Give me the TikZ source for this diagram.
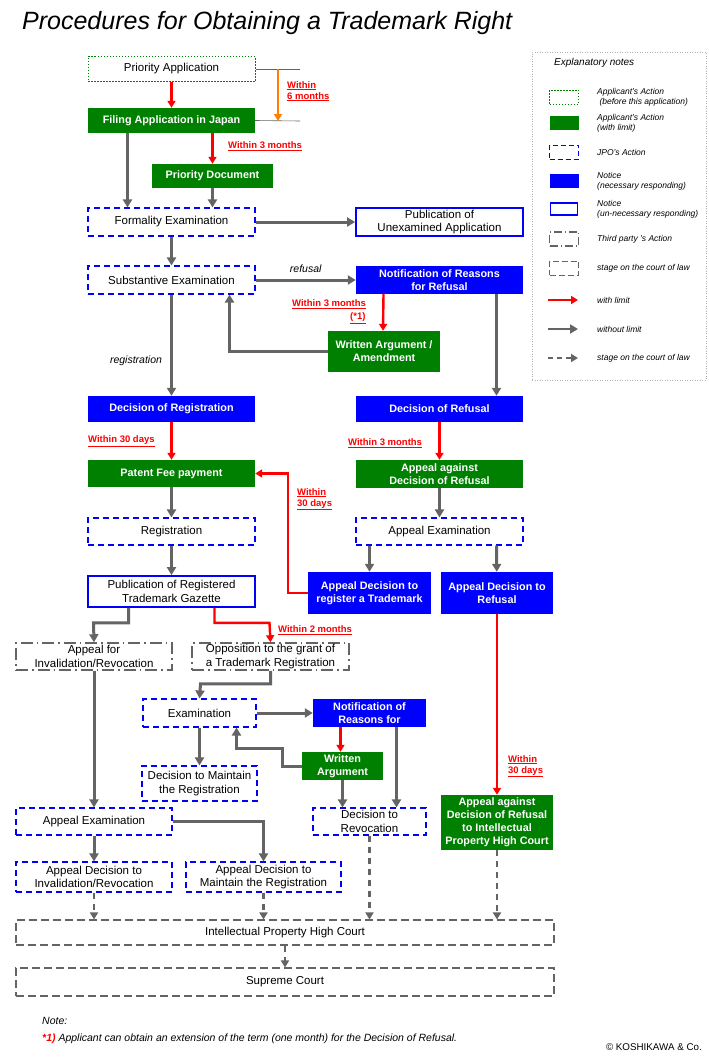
\documentclass[tikz,border=0pt]{standalone}
\usepackage{fontspec}
\setmainfont{Liberation Sans}
\usetikzlibrary{arrows.meta}
\definecolor{appgreen}{RGB}{0,128,0}
\definecolor{jpoblue}{RGB}{0,0,255}
\definecolor{arrgray}{RGB}{100,100,100}
\definecolor{limred}{RGB}{255,0,0}
\tikzset{
  box/.style={rectangle, inner sep=1pt, align=center, font=\fontsize{11.5}{13.5}\selectfont},
  pre/.style={box, draw=appgreen, line width=1pt, dash pattern=on 1.5pt off 1.5pt},
  app/.style={box, fill=appgreen, text=white, font=\fontsize{10.8}{13}\selectfont\bfseries},
  jpo/.style={box, draw=jpoblue, line width=1.1pt, dash pattern=on 6pt off 4pt},
  need/.style={box, fill=jpoblue, text=white, font=\fontsize{10.8}{13}\selectfont\bfseries},
  notice/.style={box, draw=jpoblue, line width=1.8pt},
  third/.style={box, draw=arrgray, line width=1.5pt, dash pattern=on 12pt off 4pt on 1.5pt off 4pt},
  court/.style={box, draw=arrgray, line width=1.1pt, dash pattern=on 8pt off 4pt},
  rarr/.style={draw=limred, line width=2.4pt, -{Triangle[length=7pt,width=8pt]}},
  garr/.style={draw=arrgray, line width=3pt, -{Triangle[length=8pt,width=9pt]}},
  darr/.style={draw=arrgray, line width=2.2pt, dash pattern=on 6pt off 5pt, -{Triangle[length=7pt,width=8pt]}},
  lim/.style={text=limred, font=\fontsize{9.5}{11}\selectfont\bfseries, align=left, inner sep=0pt},
  note/.style={font=\fontsize{10.5}{12}\selectfont\itshape, inner sep=0pt},
  leg/.style={font=\fontsize{8.5}{10}\selectfont\itshape, align=left, anchor=west, inner sep=0pt},
}
\begin{document}
\begin{tikzpicture}[x=1pt,y=-1pt]
  \useasboundingbox (0,0) rectangle (709,1063);

  % title
  \node[anchor=west, inner sep=0pt, font=\fontsize{25}{28}\selectfont\itshape] (title) at (22,23) {Procedures for Obtaining a Trademark Right};

  % main column
  \node[pre, minimum width=167pt, minimum height=25pt] (pa) at (171.5,69) {Priority Application};
  \node[app, minimum width=167pt, minimum height=25pt] (fa) at (171.5,120.5) {Filing Application in Japan};
  \node[app, minimum width=121pt, minimum height=24pt] (pd) at (212.5,176) {Priority Document};
  \node[jpo, minimum width=167pt, minimum height=28pt] (fe) at (171.5,222) {Formality Examination};
  \node[notice, minimum width=167pt, minimum height=28pt] (pu) at (439.5,222) {Publication of\\Unexamined Application};
  \node[jpo, minimum width=167pt, minimum height=28pt] (se) at (171.5,280) {Substantive Examination};
  \node[need, minimum width=167pt, minimum height=28pt] (nr) at (439.5,280) {Notification of Reasons\\for Refusal};
  \node[app, minimum width=112pt, minimum height=41pt] (wa) at (384,351.5) {Written Argument /\\Amendment};
  \node[need, minimum width=167pt, minimum height=26pt] (dr) at (171.5,409) {Decision of Registration};
  \node[need, minimum width=167pt, minimum height=26pt] (df) at (439.5,409) {Decision of Refusal};
  \node[app, minimum width=167pt, minimum height=27pt] (pf) at (171.5,473.5) {Patent Fee payment};
  \node[app, minimum width=167pt, minimum height=28pt] (aa) at (439.5,474) {Appeal against\\Decision of Refusal};
  \node[jpo, minimum width=167pt, minimum height=27pt] (rg) at (171.5,531.5) {Registration};
  \node[jpo, minimum width=167pt, minimum height=27pt] (ae) at (439.5,531.5) {Appeal Examination};
  \node[notice, minimum width=167pt, minimum height=31pt] (pg) at (171.5,591.5) {Publication of Registered\\Trademark Gazette};
  \node[need, minimum width=123pt, minimum height=42pt] (ar) at (369.5,593) {Appeal Decision to\\register a Trademark};
  \node[need, minimum width=112pt, minimum height=42pt] (af) at (497,593) {Appeal Decision to\\Refusal};

  % lower part
  \node[third, minimum width=156pt, minimum height=27pt] (ai) at (94,656.5) {Appeal for\\Invalidation/Revocation};
  \node[third, minimum width=157pt, minimum height=27pt] (op) at (270.5,656.5) {Opposition to the grant of\\a Trademark Registration};
  \node[jpo, minimum width=113pt, minimum height=28pt] (ex) at (199.5,713) {Examination};
  \node[need, minimum width=113pt, minimum height=28pt] (nf) at (369.5,713) {Notification of\\Reasons for};
  \node[app, minimum width=81pt, minimum height=28pt] (wb) at (342.5,766) {Written\\Argument};
  \node[jpo, minimum width=115pt, minimum height=35pt] (dm) at (199.5,783.5) {Decision to Maintain\\the Registration};
  \node[jpo, minimum width=113pt, minimum height=27pt] (dv) at (369.5,821.5) {Decision to\\Revocation};
  \node[app, minimum width=112pt, minimum height=55pt] (ac) at (497,822.5) {Appeal against\\Decision of Refusal\\to Intellectual\\Property High Court};
  \node[jpo, minimum width=156pt, minimum height=27pt] (ax) at (94,821.5) {Appeal Examination};
  \node[jpo, minimum width=156pt, minimum height=30pt] (di) at (94,877) {Appeal Decision to\\Invalidation/Revocation};
  \node[jpo, minimum width=155pt, minimum height=30pt] (dk) at (263.5,877) {Appeal Decision to\\Maintain the Registration};
  \node[court, minimum width=538pt, minimum height=25pt] (ip) at (285,932.5) {Intellectual Property High Court};
  \node[court, minimum width=538pt, minimum height=28pt] (sc) at (285,982) {Supreme Court};

  % priority period
  \coordinate (p6a) at (300,69);
  \coordinate (p6b) at (300,121);
  \draw[arrgray, line width=0.6pt] (pa.east) -- (p6a);
  \draw[arrgray, line width=0.6pt] (fa.east) -- (p6b);
  \draw[draw=orange, line width=1.8pt, -{Triangle[length=7pt,width=8pt]}] ([xshift=-22pt]p6a) -- ([xshift=-22pt]p6b);
  \node[lim, anchor=north west] (l6) at (287,81) {\underline{Within}\\\underline{6 months}};

  % connectors
  \draw[rarr] (pa) -- (fa);
  \draw[rarr] ([xshift=41pt]fa.south) -- (pd);
  \node[lim, anchor=west] (l3a) at (228,146) {\underline{Within 3 months}};
  \draw[garr] ([xshift=-44pt]fa.south) -- ([xshift=-44pt]fe.north);
  \draw[garr] (pd) -- (pd |- fe.north);
  \draw[garr] (fe) -- (pu);
  \draw[garr] (fe) -- (se);
  \draw[garr] (se) -- node[note, above=6pt] (lrf) {refusal} (nr);
  \draw[rarr] ([xshift=-56pt]nr.south) -- ([xshift=-1pt]wa.north);
  \node[lim, anchor=west] (l3b) at (292,304) {\underline{Within 3 months}};
  \node[lim, anchor=west] (l3c) at (350,318) {\underline{(*1)}};
  \draw[garr] (wa.west) -| ([xshift=58pt]se.south);
  \draw[garr] (se) -- node[note, pos=0.65, left=8pt] (lrg) {registration} (dr);
  \draw[garr] ([xshift=57pt]nr.south) -- ([xshift=57pt]df.north);
  \draw[rarr] (dr) -- (pf);
  \node[lim, anchor=west] (l30a) at (88,441) {\underline{Within 30 days}};
  \draw[rarr] (df) -- (aa);
  \node[lim, anchor=west] (l3d) at (348,443) {\underline{Within 3 months}};
  \draw[garr] (aa) -- (ae);
  \draw[garr] (pf) -- (rg);
  \draw[garr] (rg) -- (pg);
  \draw[garr] (ar.north |- ae.south) -- (ar.north);
  \draw[garr] ([xshift=57pt]ae.south) -- (af);
  \draw[rarr] (ar.west) -| ([xshift=33pt]pf.east) -- (pf.east);
  \node[lim, anchor=north west] (l30b) at (297,488) {\underline{Within}\\\underline{30 days}};
  \draw[garr] ([xshift=-43pt]pg.south) |- ++(-35,15) -- (ai.north);
  \draw[rarr] ([xshift=43pt]pg.south) |- ++(55,15) -- (op.north);
  \node[lim, anchor=west] (l2) at (278,630) {\underline{Within 2 months}};
  \draw[garr] (op.south) |- ++(-70,13) -- (ex.north);
  \draw[garr] (ex) -- (nf);
  \draw[rarr] ([xshift=-29pt]nf.south) -- ([xshift=-2pt]wb.north);
  \draw[garr] (wb.west) -| ([xshift=-19pt,yshift=-21pt]wb.west |- ex.south) -| ([xshift=37pt]ex.south);
  \draw[garr] (ex) -- (dm);
  \draw[garr] (wb) -- (wb |- dv.north);
  \draw[garr] ([xshift=27pt]nf.south) -- ([xshift=27pt]dv.north);
  \draw[rarr] (af) -- (ac);
  \node[lim, anchor=north west] (l30c) at (508,755) {\underline{Within}\\\underline{30 days}};
  \draw[garr] (ai) -- (ax);
  \draw[garr] (ax) -- (di);
  \draw[garr] (ax.east) -| (dk.north);
  \draw[darr] (di) -- (di |- ip.north);
  \draw[darr] (dk) -- (dk |- ip.north);
  \draw[darr] (dv) -- (dv |- ip.north);
  \draw[darr] (ac) -- (ac |- ip.north);
  \draw[darr] (ip) -- (sc);

  % legend
  \node[draw=gray!60, line width=0.8pt, dash pattern=on 1pt off 1.5pt, minimum width=174pt, minimum height=328pt, inner sep=0pt] (lg) at (619,216) {};
  \node[leg, font=\fontsize{10}{11}\selectfont\itshape] (lgt) at (554,63) {Explanatory notes};
  \node[pre, minimum width=29pt, minimum height=14pt] (k1) at (564,97) {};
  \node[leg] (t1) at (597,97) {Applicant's Action\\ \ (before this application)};
  \node[app, minimum width=29pt, minimum height=14pt] (k2) at (564,123) {};
  \node[leg] (t2) at (597,123) {Applicant's Action\\(with limit)};
  \node[jpo, line width=0.8pt, dash pattern=on 5pt off 3pt, minimum width=29pt, minimum height=14pt] (k3) at (564,152) {};
  \node[leg] (t3) at (597,152) {JPO's Action};
  \node[need, minimum width=29pt, minimum height=14pt] (k4) at (564,181) {};
  \node[leg] (t4) at (597,181) {Notice\\(necessary responding)};
  \node[notice, line width=1.4pt, minimum width=27pt, minimum height=12pt] (k5) at (564,209) {};
  \node[leg] (t5) at (597,209) {Notice\\(un-necessary responding)};
  \node[third, line width=1.1pt, dash pattern=on 8pt off 3pt on 1pt off 3pt, minimum width=29pt, minimum height=14pt] (k6) at (564,239) {};
  \node[leg] (t6) at (597,239) {Third party 's Action};
  \node[court, line width=0.9pt, dash pattern=on 6pt off 3pt, minimum width=29pt, minimum height=14pt] (k7) at (564,268) {};
  \node[leg] (t7) at (597,268) {stage on the court of law};
  \coordinate (k8a) at (548,300); \coordinate (k8b) at (578,300);
  \draw[rarr, line width=2pt] (k8a) -- (k8b);
  \node[leg] (t8) at (597,300) {with limit};
  \coordinate (k9a) at (548,329); \coordinate (k9b) at (578,329);
  \draw[garr, line width=2.4pt] (k9a) -- (k9b);
  \node[leg] (t9) at (597,329) {without limit};
  \coordinate (k10a) at (548,358); \coordinate (k10b) at (578,358);
  \draw[darr, dash pattern=on 5pt off 4pt] (k10a) -- (k10b);
  \node[leg] (t10) at (597,358) {stage on the court of law};

  % notes
  \node[note, anchor=west] (nt) at (42,1021) {Note:};
  \node[note, anchor=west] (n1) at (42,1039) {\textcolor{limred}{\textbf{*1)}} Applicant can obtain an extension of the term (one month) for the Decision of Refusal.};
  \node[anchor=east, inner sep=0pt, font=\fontsize{9.8}{11}\selectfont] (cp) at (702,1047) {\textcopyright\ KOSHIKAWA \& Co.};
\end{tikzpicture}
\end{document}
